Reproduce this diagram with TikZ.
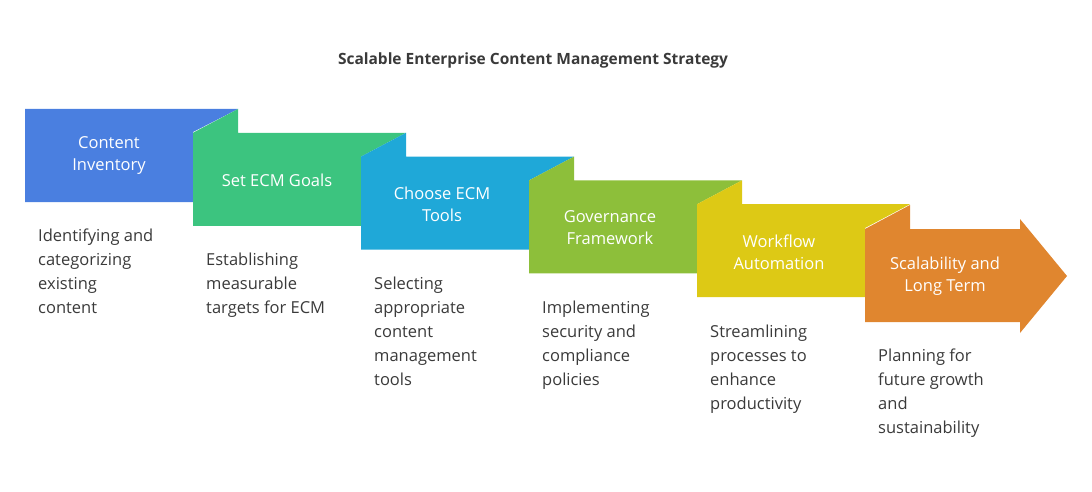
\documentclass[tikz,border=0pt]{standalone}
\usepackage{fontspec}
\setmainfont{Open Sans}
\definecolor{c1}{HTML}{4A7FE0}
\definecolor{c2}{HTML}{3CC47F}
\definecolor{c3}{HTML}{1FA8D8}
\definecolor{c4}{HTML}{8DBF3A}
\definecolor{c5}{HTML}{DDC915}
\definecolor{c6}{HTML}{E0862F}
\definecolor{txt}{HTML}{3A3A3A}
\begin{document}
\begin{tikzpicture}[x=1pt,y=-1pt,
  lab/.style={text=white,font=\fontsize{16.5}{22}\selectfont,align=center},
  desc/.style={text=txt,font=\fontsize{16.5}{24}\selectfont,align=left,anchor=north west,inner sep=0pt}]
\useasboundingbox (0,0) rectangle (1092,492);
\node[font=\bfseries\fontsize{15.5}{18}\selectfont,text=txt] (title) at (533,60) {Scalable Enterprise Content Management Strategy};
% block 1
\fill[c1] (25,109) -- (238,109) -- (193,132) -- (193,202) -- (25,202) -- cycle;
\foreach \i/\c in {1/c2,2/c3,3/c4,4/c5}{
  \pgfmathsetmacro\x{25+168*\i}
  \pgfmathsetmacro\y{109+23.8*\i}
  \fill[\c] (\x,\y) -- (\x+45,\y-23.8) -- (\x+45,\y) -- (\x+213,\y) -- (\x+168,\y+23.8) -- (\x+168,\y+93) -- (\x,\y+93) -- cycle;
}
\fill[c6] (865,229) -- (910,205) -- (910,229) -- (1020,229) -- (1020,219) -- (1067,276) -- (1020,333) -- (1020,322) -- (865,322) -- cycle;
\node[lab] (l1) at (109,156) {Content\\Inventory};
\node[lab] (l2) at (277,180) {Set ECM Goals};
\node[lab] (l3) at (442,204) {Choose ECM\\Tools};
\node[lab] (l4) at (610,228) {Governance\\Framework};
\node[lab] (l5) at (779,252) {Workflow\\Automation};
\node[lab] (l6) at (945,276) {Scalability and\\Long Term};
\node[desc] (d1) at (38,229) {Identifying and\\categorizing\\existing\\content};
\node[desc] (d2) at (206,253) {Establishing\\measurable\\targets for ECM};
\node[desc] (d3) at (374,277) {Selecting\\appropriate\\content\\management\\tools};
\node[desc] (d4) at (542,301) {Implementing\\security and\\compliance\\policies};
\node[desc] (d5) at (710,325) {Streamlining\\processes to\\enhance\\productivity};
\node[desc] (d6) at (878,349) {Planning for\\future growth\\and\\sustainability};
\end{tikzpicture}
\end{document}
